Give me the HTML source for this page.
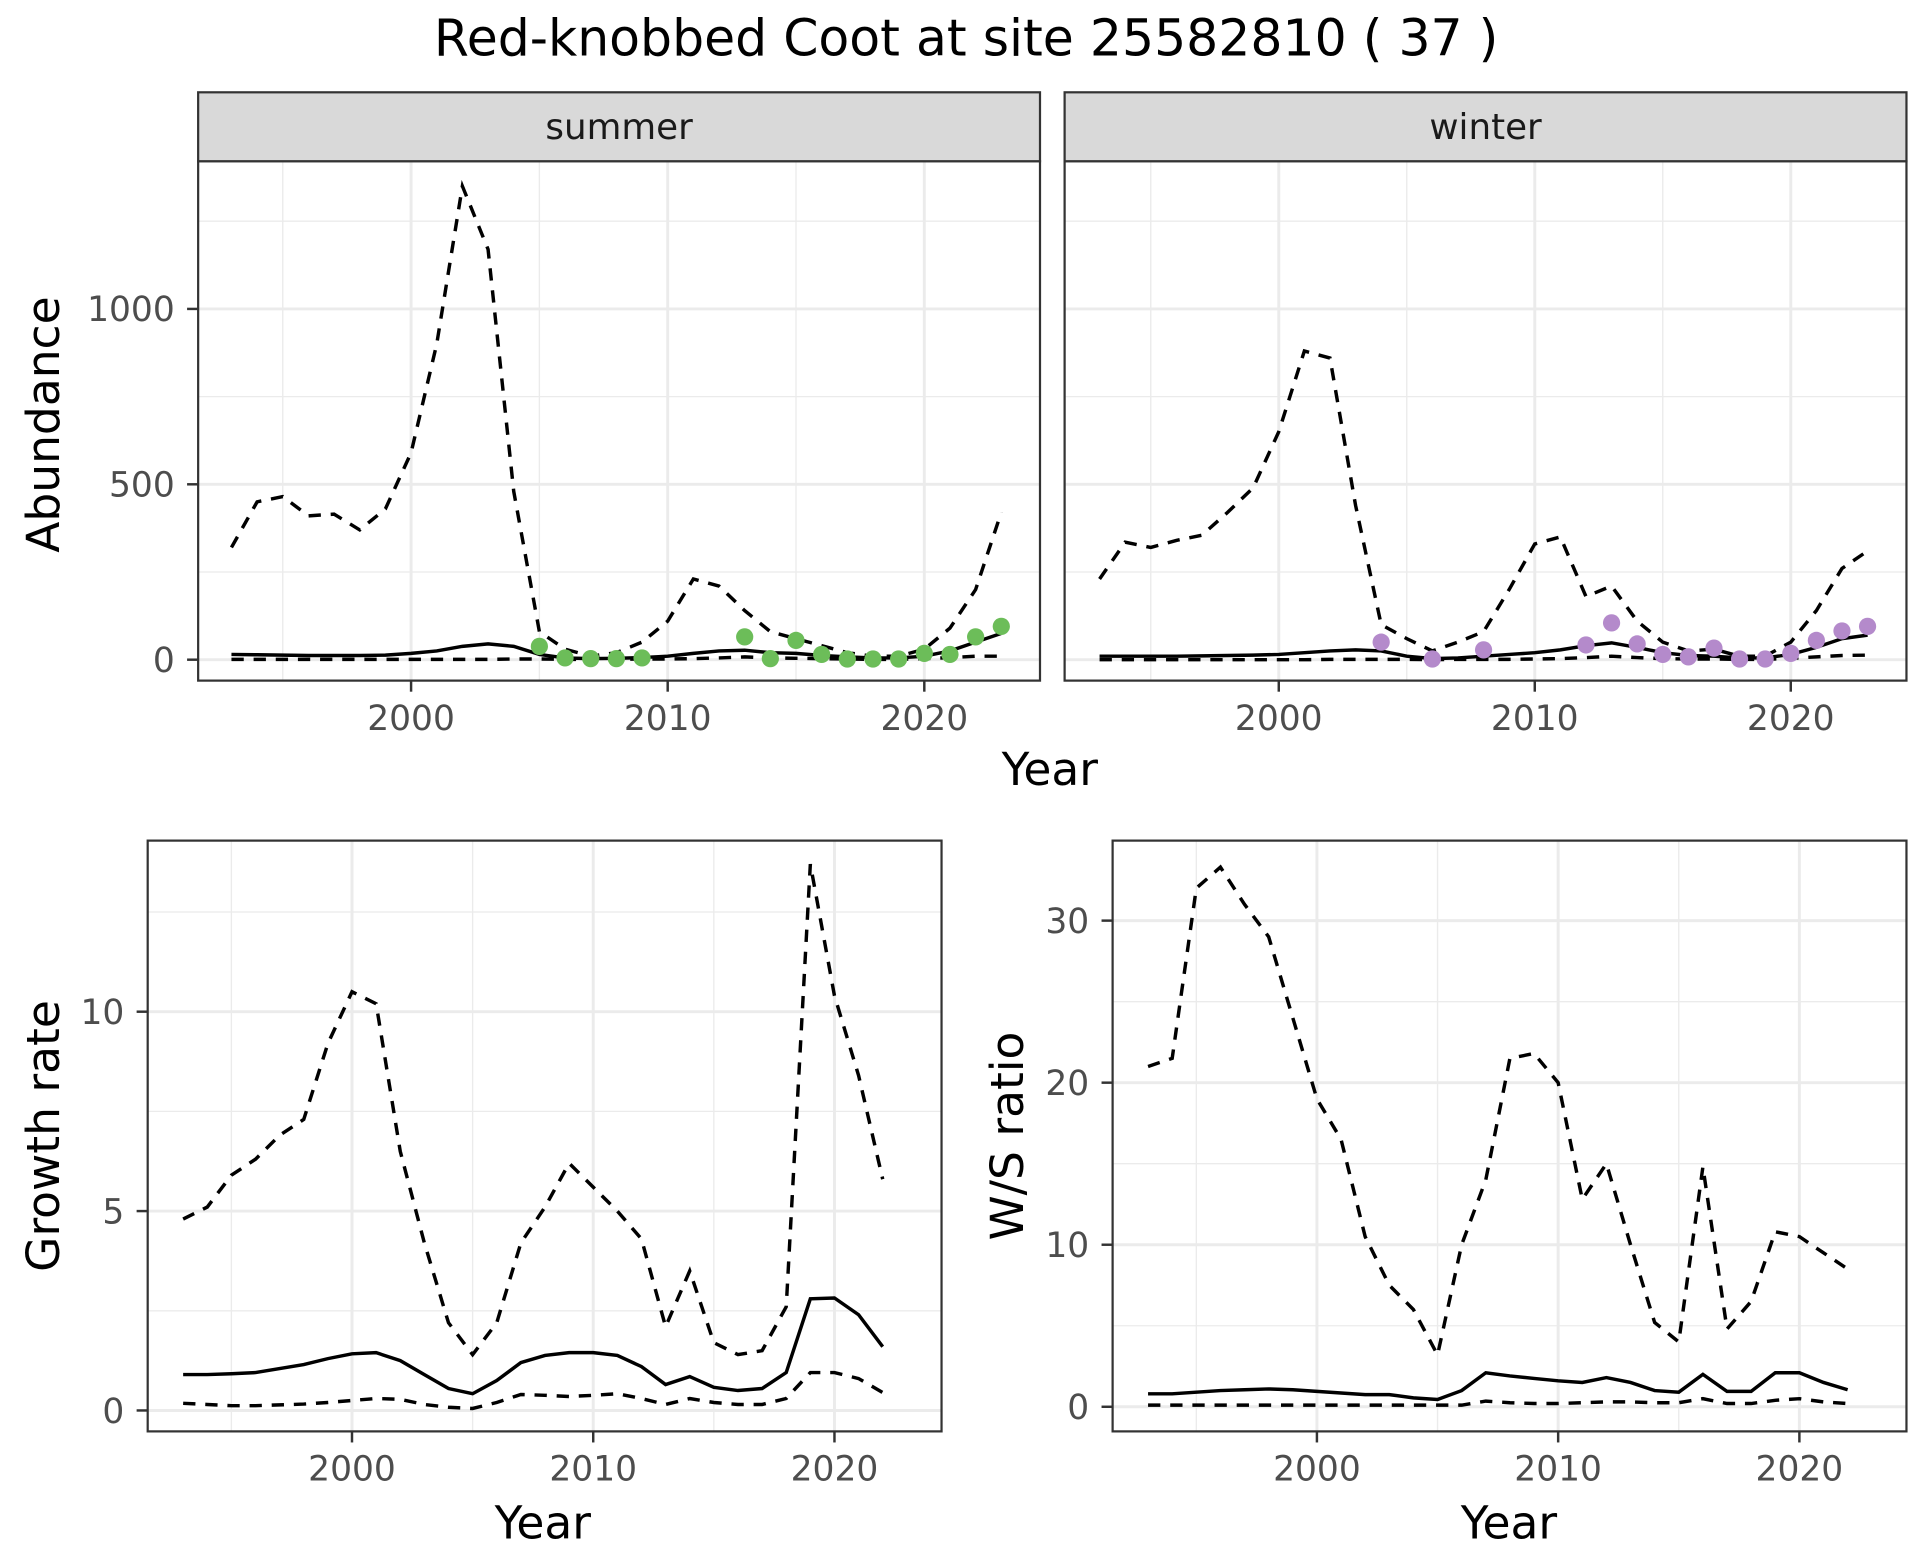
<!DOCTYPE html>
<html><head><meta charset="utf-8"><style>
html,body{margin:0;padding:0;background:#fff;}
svg{display:block;font-family:"DejaVu Sans","Liberation Sans",sans-serif;}
</style></head><body>
<svg id="chart" width="1920" height="1560" viewBox="0 0 1560 1267.5" xmlns="http://www.w3.org/2000/svg">
<rect width="1560" height="1267.5" fill="#fff"/>
<text x="785" y="45" font-size="41" text-anchor="middle" fill="#000">Red-knobbed Coot at site 25582810 ( 37 )</text>
</svg>
<script>
const yearsTop = [1993,1994,1995,1996,1997,1998,1999,2000,2001,2002,2003,2004,2005,2006,2007,2008,2009,2010,2011,2012,2013,2014,2015,2016,2017,2018,2019,2020,2021,2022,2023];
const summerUpper = [320,450,465,410,415,370,430,590,900,1350,1170,480,80,30,10,20,50,110,230,210,140,80,60,40,20,10,10,30,90,200,420];
const summerMid = [15,14,13,12,12,12,13,18,25,38,45,38,15,5,3,4,6,10,18,25,27,20,18,12,8,5,5,10,25,50,75];
const summerLower = [1,1,1,1,1,1,1,1,1,1,1,2,2,1,1,1,2,2,3,5,8,5,4,3,2,1,1,3,6,10,10];
const summerPtYears = [2005,2006,2007,2008,2009,2013,2014,2015,2016,2017,2018,2019,2020,2021,2022,2023];
const summerPts = [38,5,3,3,5,65,3,55,15,2,2,2,18,15,65,95];
const winterUpper = [230,335,320,340,355,420,490,650,880,860,440,100,60,25,50,80,200,330,350,180,210,110,50,25,30,10,10,50,140,260,310];
const winterMid = [10,10,10,10,11,12,13,15,20,25,28,25,10,3,5,10,15,20,28,40,48,35,20,12,10,5,5,15,35,60,70];
const winterLower = [0,0,0,0,0,0,0,0,0,1,1,1,1,0,1,1,1,2,3,6,10,6,3,2,2,1,1,4,8,12,13];
const winterPtYears = [2004,2006,2008,2012,2013,2014,2015,2016,2017,2018,2019,2020,2021,2022,2023];
const winterPts = [50,2,28,42,105,45,15,8,33,2,2,18,55,82,95];
const yearsBottom = [1993,1994,1995,1996,1997,1998,1999,2000,2001,2002,2003,2004,2005,2006,2007,2008,2009,2010,2011,2012,2013,2014,2015,2016,2017,2018,2019,2020,2021,2022];
const growthUpper = [4.8,5.1,5.9,6.3,6.9,7.3,9.2,10.5,10.2,6.5,4.2,2.2,1.4,2.2,4.2,5.1,6.2,5.6,5.0,4.3,2.1,3.5,1.7,1.4,1.5,2.6,13.7,10.4,8.4,5.8];
const growthMid = [0.9,0.9,0.92,0.95,1.05,1.15,1.3,1.42,1.45,1.25,0.9,0.55,0.42,0.75,1.2,1.38,1.45,1.45,1.38,1.1,0.65,0.85,0.58,0.5,0.55,0.95,2.8,2.82,2.4,1.6];
const growthLower = [0.18,0.15,0.12,0.12,0.14,0.16,0.2,0.25,0.3,0.28,0.15,0.08,0.05,0.2,0.4,0.38,0.35,0.38,0.42,0.3,0.15,0.3,0.2,0.15,0.15,0.3,0.95,0.95,0.8,0.45];
const ratioUpper = [21,21.5,32,33.3,31,29,24,19,16.5,10.5,7.5,6,3.2,10,14,21.5,21.8,20,12.8,15,10,5.2,4,14.8,4.8,6.5,10.8,10.5,9.5,8.5];
const ratioMid = [0.8,0.8,0.9,1,1.05,1.1,1.05,0.95,0.85,0.75,0.75,0.55,0.45,1,2.1,1.9,1.75,1.6,1.5,1.8,1.5,1,0.9,2,0.95,0.95,2.1,2.1,1.5,1.05];
const ratioLower = [0.1,0.1,0.1,0.1,0.1,0.1,0.1,0.1,0.1,0.1,0.1,0.1,0.1,0.1,0.35,0.25,0.2,0.2,0.25,0.3,0.3,0.25,0.25,0.5,0.2,0.2,0.4,0.5,0.3,0.2];
const xTicks = [2000,2010,2020];
const xMinor = [1995,2005,2015];
const topYTicks = [0,500,1000];
const topYMinor = [250,750,1250];
const growthTicks = [0,5,10];
const growthMinor = [2.5,7.5,12.5];
const ratioTicks = [0,10,20,30];
const ratioMinor = [5,15,25];

const NS = "http://www.w3.org/2000/svg";
const svg = document.getElementById('chart');
function mk(tag, attrs, parent){
  const e = document.createElementNS(NS, tag);
  for (const k in attrs) e.setAttribute(k, attrs[k]);
  (parent||svg).appendChild(e);
  return e;
}
function panel(p){
  const g = mk('g', {});
  
  
  const sx = v => p.x0 + (v - p.xa) / (p.xb - p.xa) * (p.x1r - p.x0);
  const sy = v => p.y0 + (v - p.ya) / (p.yb - p.ya) * (p.y1r - p.y0);
  const X = p.px, Y = p.py, W = p.pw, H = p.ph;
  for (const v of p.yMinor){ const y=sy(v); if(y>Y&&y<Y+H) mk('line',{x1:X,x2:X+W,y1:y,y2:y,stroke:'#EBEBEB','stroke-width':1.1},g); }
  for (const v of xMinor){ const x=sx(v); mk('line',{x1:x,x2:x,y1:Y,y2:Y+H,stroke:'#EBEBEB','stroke-width':1.1},g); }
  for (const v of p.yTicks){ const y=sy(v); mk('line',{x1:X,x2:X+W,y1:y,y2:y,stroke:'#EBEBEB','stroke-width':2.4},g); }
  for (const v of xTicks){ const x=sx(v); mk('line',{x1:x,x2:x,y1:Y,y2:Y+H,stroke:'#EBEBEB','stroke-width':2.4},g); }
  const cp = 'clip-'+p.name;
  const clip = mk('clipPath',{id:cp},g); mk('rect',{x:X,y:Y,width:W,height:H},clip);
  const lines = [[p.upper,'10,8'],[p.lower,'10,8'],[p.mid,'']];
  const lineNames = ['upper-bound-line','lower-bound-line','trend-line'];
  lines.forEach((l,i)=>{
    const d = l[0].map((v,j)=>(j?'L':'M')+sx(p.years[j]).toFixed(2)+','+sy(v).toFixed(2)).join('');
    const path = mk('path',{d:d,fill:'none',stroke:'#000','stroke-width':2.8,'stroke-dasharray':l[1],'clip-path':'url(#'+cp+')'},g);
    
    
  });
  if (p.pts){
    p.pts.forEach((v,j)=>{
      const c = mk('circle',{cx:sx(p.ptYears[j]),cy:sy(v),r:7,fill:p.ptColor},g);
      
      
    });
  }
  mk('rect',{x:X,y:Y,width:W,height:H,fill:'none',stroke:'#333','stroke-width':1.8},g);
  if (p.strip){
    const s = mk('rect',{x:X,y:Y-56,width:W,height:56,fill:'#D9D9D9',stroke:'#333','stroke-width':1.8},g);
    
    
    const t = mk('text',{x:X+W/2,y:Y-18,'font-size':29,'text-anchor':'middle',fill:'#1A1A1A'},g);
    t.textContent = p.strip;
    
    
  }
  if (p.showY){
    for (const v of p.yTicks){ const y=sy(v);
      mk('line',{x1:X-9,x2:X,y1:y,y2:y,stroke:'#333','stroke-width':2},g);
      const t = mk('text',{x:X-19,y:y+10,'font-size':28,'text-anchor':'end',fill:'#4D4D4D'},g);
      t.textContent = v;
      
      
    }
  }
  for (const v of xTicks){ const x=sx(v);
    mk('line',{x1:x,x2:x,y1:Y+H,y2:Y+H+9,stroke:'#333','stroke-width':2},g);
    const t = mk('text',{x:x,y:Y+H+40,'font-size':28,'text-anchor':'middle',fill:'#4D4D4D'},g);
    t.textContent = v;
    
    
  }
}
panel({name:'summer-panel',px:161,py:131,pw:684,ph:422,x0:334,x1r:751,xa:2000,xb:2020,y0:536,y1r:251,ya:0,yb:1000,
  years:yearsTop,upper:summerUpper,mid:summerMid,lower:summerLower,pts:summerPts,ptYears:summerPtYears,ptColor:'#6CBD59',
  yTicks:topYTicks,yMinor:topYMinor,showY:true,strip:'summer'});
panel({name:'winter-panel',px:865,py:131,pw:684,ph:422,x0:1039,x1r:1455,xa:2000,xb:2020,y0:536,y1r:251,ya:0,yb:1000,
  years:yearsTop,upper:winterUpper,mid:winterMid,lower:winterLower,pts:winterPts,ptYears:winterPtYears,ptColor:'#B48ACB',
  yTicks:topYTicks,yMinor:topYMinor,showY:false,strip:'winter'});
panel({name:'growth-panel',px:120,py:683,pw:645,ph:480,x0:286,x1r:678,xa:2000,xb:2020,y0:1146,y1r:822,ya:0,yb:10,
  years:yearsBottom,upper:growthUpper,mid:growthMid,lower:growthLower,yTicks:growthTicks,yMinor:growthMinor,showY:true});
panel({name:'ratio-panel',px:904,py:683,pw:645,ph:480,x0:1070,x1r:1462,xa:2000,xb:2020,y0:1143,y1r:748,ya:0,yb:30,
  years:yearsBottom,upper:ratioUpper,mid:ratioMid,lower:ratioLower,yTicks:ratioTicks,yMinor:ratioMinor,showY:true});
function label(txt,x,y,rot,name){
  const t = mk('text',{x:x,y:y,'font-size':37,'text-anchor':'middle',fill:'#000',transform:rot?('rotate(-90 '+x+' '+y+')'):''});
  t.textContent = txt;
  
  
}
label('Year',853,638,false,'x-axis-title-top');
label('Abundance',48,345,true,'y-axis-title-abundance');
label('Year',441,1250,false,'x-axis-title-growth');
label('Growth rate',48,923,true,'y-axis-title-growth');
label('Year',1226,1250,false,'x-axis-title-ratio');
label('W/S ratio',831,923,true,'y-axis-title-ratio');
</script>
</body></html>
